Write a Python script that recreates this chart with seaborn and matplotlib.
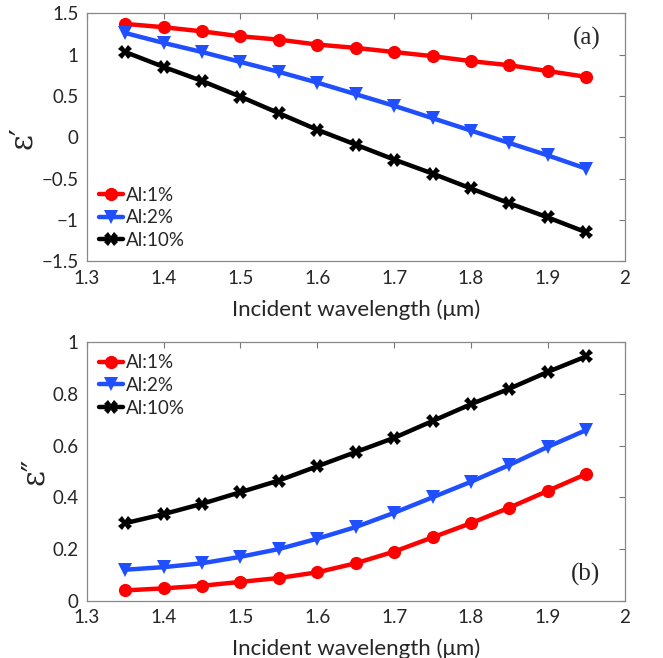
import numpy as np
import pandas as pd
import matplotlib
matplotlib.use("Agg")
import matplotlib.pyplot as plt
import seaborn as sns

# wavelength points (um)
wavelength = [1.35, 1.40, 1.45, 1.50, 1.55, 1.60, 1.65, 1.70, 1.75, 1.80, 1.85, 1.90, 1.95]
labels = ['Al:1%', 'Al:2%', 'Al:10%']

# real part eps'
eps_real_1 = [1.37, 1.33, 1.28, 1.22, 1.18, 1.12, 1.08, 1.03, 0.98, 0.92, 0.87, 0.80, 0.73]
eps_real_2 = [1.26, 1.14, 1.03, 0.91, 0.79, 0.66, 0.52, 0.38, 0.23, 0.08, -0.07, -0.22, -0.38]
eps_real_10 = [1.03, 0.85, 0.68, 0.49, 0.29, 0.09, -0.09, -0.27, -0.44, -0.62, -0.80, -0.97, -1.15]

# imaginary part eps''
eps_imag_1 = [0.040, 0.048, 0.058, 0.073, 0.088, 0.110, 0.145, 0.190, 0.245, 0.300, 0.360, 0.425, 0.490]
eps_imag_2 = [0.120, 0.130, 0.145, 0.170, 0.200, 0.240, 0.285, 0.340, 0.400, 0.460, 0.525, 0.595, 0.660]
eps_imag_10 = [0.300, 0.335, 0.375, 0.420, 0.465, 0.520, 0.575, 0.630, 0.695, 0.760, 0.820, 0.885, 0.945]

sns.set_style("white")
plt.rcParams['font.family'] = ['Lato', 'DejaVu Sans']

colors = {'Al:1%': '#ff0000', 'Al:2%': '#1f4fff', 'Al:10%': '#000000'}
markers = {'Al:1%': 'o', 'Al:2%': 'v', 'Al:10%': 'X'}


def make_df(series):
    rows = []
    for lab, vals in zip(labels, series):
        for w, v in zip(wavelength, vals):
            rows.append({'wl': w, 'val': v, 'conc': lab})
    return pd.DataFrame(rows)


df_real = make_df([eps_real_1, eps_real_2, eps_real_10])
df_imag = make_df([eps_imag_1, eps_imag_2, eps_imag_10])

fig = plt.figure(figsize=(6.63, 6.58), dpi=100)
ax1 = fig.add_axes([0.131, 0.603, 0.811, 0.377])
ax2 = fig.add_axes([0.131, 0.087, 0.811, 0.393])


def draw(ax, df, ylim, yticks, ylabel, tag, tag_y, legend_loc):
    sns.lineplot(data=df, x='wl', y='val', hue='conc', style='conc',
                 palette=colors, markers=markers, dashes=False, hue_order=labels,
                 style_order=labels, linewidth=3.2, markersize=9.5,
                 markeredgewidth=0, ax=ax)
    ax.set_xlim(1.3, 2.0)
    ax.set_ylim(*ylim)
    ax.set_xticks([1.3, 1.4, 1.5, 1.6, 1.7, 1.8, 1.9, 2.0])
    ax.set_xticklabels(['1.3', '1.4', '1.5', '1.6', '1.7', '1.8', '1.9', '2'])
    ax.set_yticks(yticks)
    ax.set_yticklabels([('%g' % t).replace('-', '\u2212') for t in yticks])
    ax.tick_params(direction='in', length=4, width=0.8, color='#777777',
                   labelsize=13.5, top=True, right=True, pad=6)
    for s in ax.spines.values():
        s.set_color('#888888')
        s.set_linewidth(0.9)
    ax.set_xlabel('Incident wavelength (\u03bcm)', fontsize=16, labelpad=9)
    ax.set_ylabel(ylabel, fontsize=22, family=['DejaVu Serif'], labelpad=2)
    ax.text(0.955, tag_y, tag, transform=ax.transAxes, ha='right', va='center',
            fontsize=18, family=['Liberation Serif'])
    ax.legend(loc=legend_loc, frameon=False, fontsize=13.5, handlelength=1.3,
              handletextpad=0.15, labelspacing=0.3, borderaxespad=0.25)


draw(ax1, df_real, (-1.5, 1.5), [-1.5, -1, -0.5, 0, 0.5, 1, 1.5],
     '\u03b5\u2032', '(a)', 0.9, 'lower left')
draw(ax2, df_imag, (0, 1), [0, 0.2, 0.4, 0.6, 0.8, 1],
     '\u03b5\u2033', '(b)', 0.1, 'upper left')

fig.savefig('out.png', dpi=100)
